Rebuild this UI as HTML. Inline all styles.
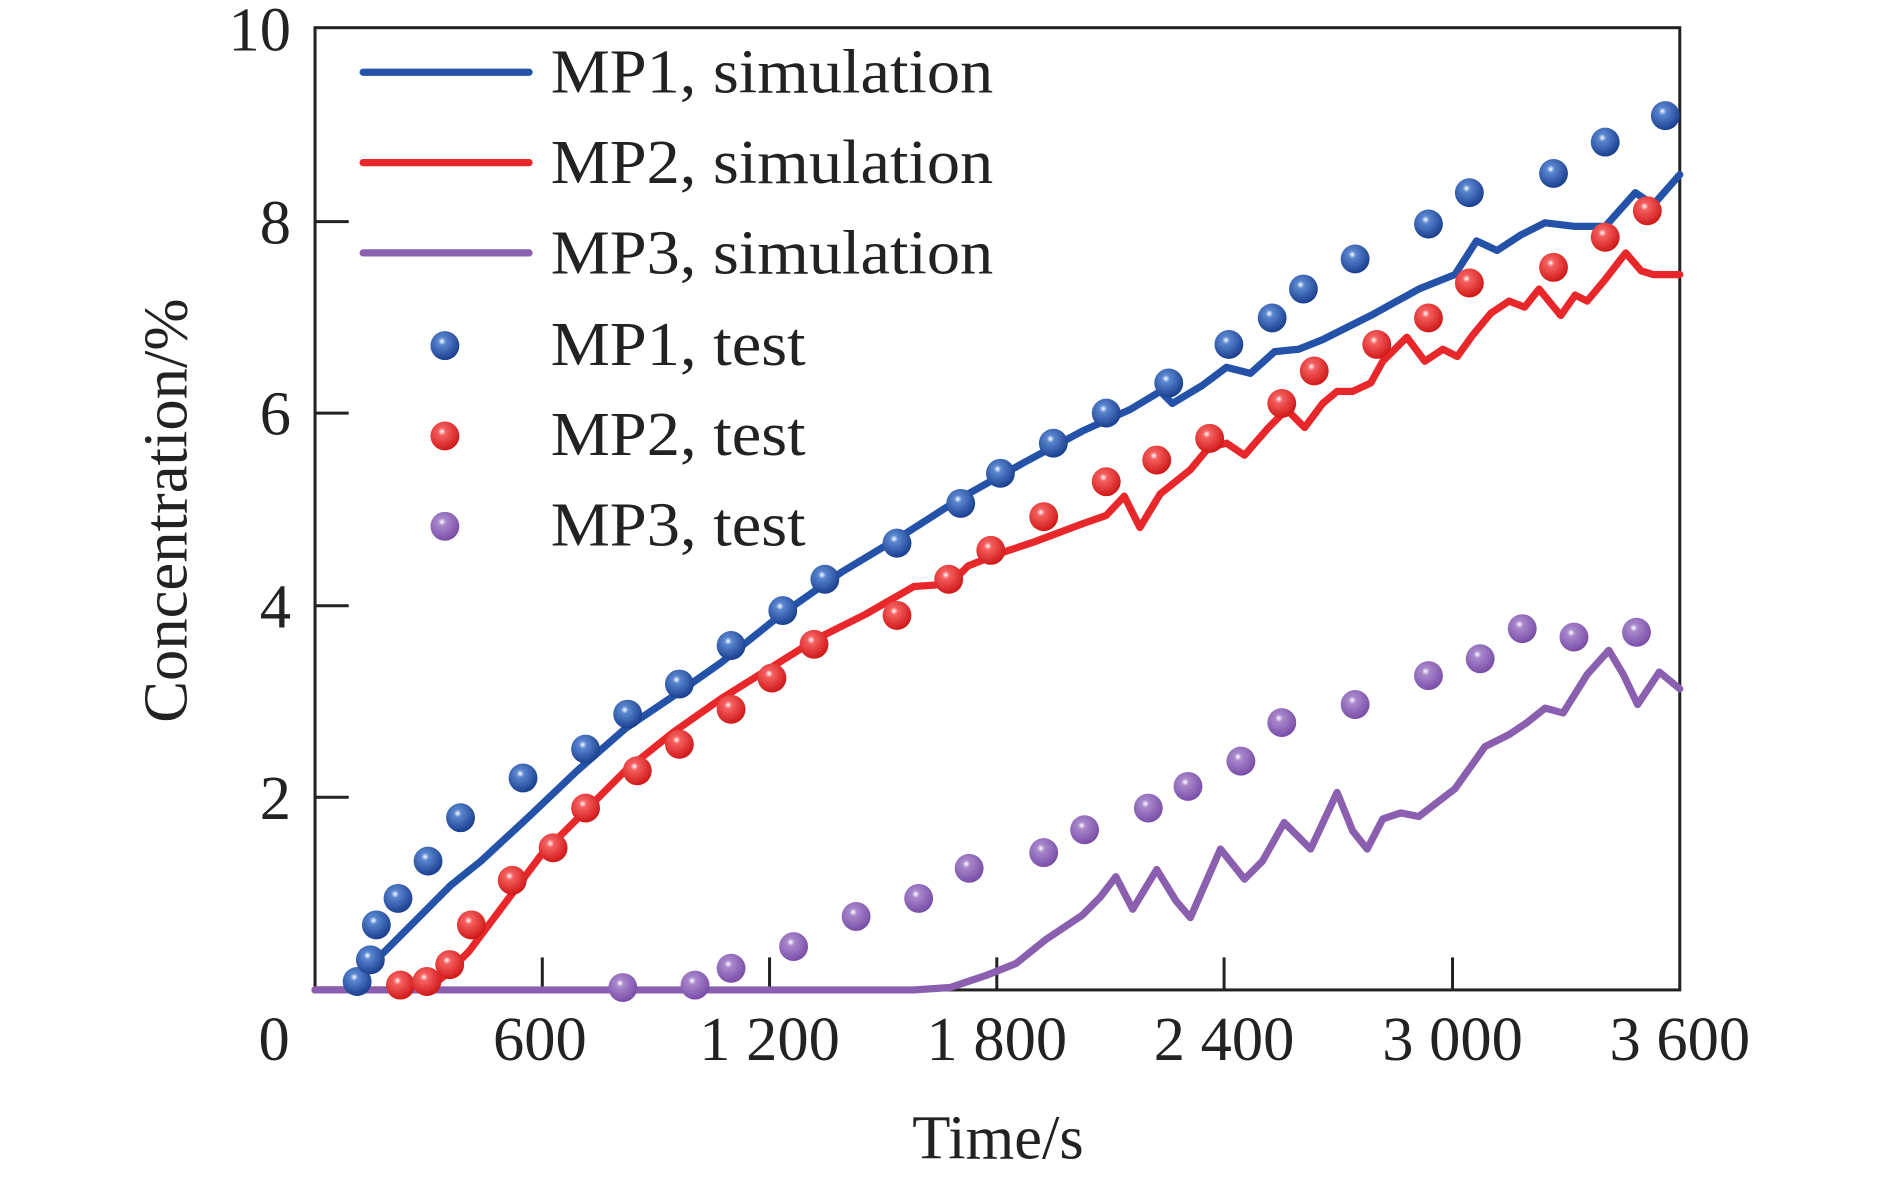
<!DOCTYPE html>
<html><head><style>html,body{margin:0;padding:0;background:#fff}svg{display:block}</style></head>
<body>
<svg width="1889" height="1179" viewBox="0 0 1571 979" preserveAspectRatio="none" xmlns="http://www.w3.org/2000/svg" font-family="Liberation Serif, serif">
<defs>
<radialGradient id="gb" cx="0.4" cy="0.35" r="0.65"><stop offset="0" stop-color="#fff"/><stop offset="0.2" stop-color="#5a86d0"/><stop offset="1" stop-color="#1a3f8f"/></radialGradient>
<radialGradient id="gr" cx="0.4" cy="0.35" r="0.65"><stop offset="0" stop-color="#fff"/><stop offset="0.2" stop-color="#f56060"/><stop offset="1" stop-color="#d01818"/></radialGradient>
<radialGradient id="gp" cx="0.4" cy="0.35" r="0.65"><stop offset="0" stop-color="#fff"/><stop offset="0.2" stop-color="#a888cc"/><stop offset="1" stop-color="#7a4ea8"/></radialGradient>
</defs>
<rect x="262" y="23" width="1135" height="799" fill="none" stroke="#222" stroke-width="2.5"/>
<g stroke="#222" stroke-width="2.5">
<line x1="451" y1="822" x2="451" y2="795"/><line x1="640" y1="822" x2="640" y2="795"/><line x1="829" y1="822" x2="829" y2="795"/><line x1="1018" y1="822" x2="1018" y2="795"/><line x1="1208" y1="822" x2="1208" y2="795"/>
<line x1="262" y1="662" x2="290" y2="662"/><line x1="262" y1="503" x2="290" y2="503"/><line x1="262" y1="343" x2="290" y2="343"/><line x1="262" y1="184" x2="290" y2="184"/>
</g>
<g font-size="52" fill="#222" text-anchor="end">
<text x="242" y="42">10</text><text x="242" y="202">8</text><text x="242" y="361">6</text><text x="242" y="521">4</text><text x="242" y="680">2</text>
</g>
<g font-size="52" fill="#222" text-anchor="middle">
<text x="228" y="880" >0</text><text x="449" y="880">600</text><text x="640" y="880">1 200</text><text x="829" y="880">1 800</text><text x="1018" y="880">2 400</text><text x="1208" y="880">3 000</text><text x="1397" y="880">3 600</text>
<text x="830" y="962">Time/s</text>
<text transform="translate(155,424) rotate(-90)">Concentration/%</text>
</g>
<g fill="none" stroke-width="6" stroke-linejoin="round" stroke-linecap="round">
<polyline stroke="#2352a8" points="262,822 290,822 300,808 320,790 345,765 375,735 400,715 440,678 480,640 520,605 560,578 600,550 650,510 700,475 750,445 800,413 850,385 900,358 940,340 965,325 975,335 1000,320 1020,305 1040,310 1060,292 1080,290 1100,282 1140,262 1180,240 1210,228 1228,200 1245,208 1265,195 1285,185 1310,188 1335,188 1360,160 1375,170 1397,145"/>
<polyline stroke="#e8272a" points="262,822 355,822 370,810 390,790 420,750 450,710 480,680 520,640 560,608 600,580 640,555 680,530 720,510 760,487 790,485 805,470 830,460 860,450 900,435 920,428 935,412 948,438 965,410 990,390 1005,372 1020,368 1035,378 1055,355 1070,340 1085,355 1100,335 1112,325 1125,325 1140,318 1150,300 1170,280 1185,300 1200,290 1212,296 1225,278 1240,260 1255,250 1268,255 1280,240 1298,262 1310,245 1320,250 1335,232 1352,210 1365,225 1375,228 1397,228"/>
<polyline stroke="#8b5fb0" points="262,822 760,822 790,820 820,810 845,800 870,780 900,760 915,745 928,728 942,755 962,722 978,748 990,762 1015,705 1035,730 1050,715 1068,683 1090,705 1112,658 1125,690 1137,705 1150,680 1165,675 1180,678 1210,655 1235,620 1255,610 1270,600 1285,588 1300,592 1320,560 1338,540 1350,560 1362,585 1380,558 1397,572"/>
<line x1="302" y1="60" x2="440" y2="60" stroke="#2352a8"/>
<line x1="302" y1="135" x2="440" y2="135" stroke="#e8272a"/>
<line x1="302" y1="210" x2="440" y2="210" stroke="#8b5fb0"/>
</g>
<g fill="url(#gb)">
<circle cx="297" cy="815" r="12"/><circle cx="308" cy="797" r="12"/><circle cx="313" cy="768" r="12"/><circle cx="331" cy="746" r="12"/><circle cx="356" cy="715" r="12"/><circle cx="383" cy="679" r="12"/><circle cx="435" cy="646" r="12"/><circle cx="487" cy="622" r="12"/><circle cx="522" cy="593" r="12"/><circle cx="565" cy="568" r="12"/><circle cx="608" cy="536" r="12"/><circle cx="651" cy="507" r="12"/><circle cx="686" cy="481" r="12"/><circle cx="746" cy="451" r="12"/><circle cx="799" cy="418" r="12"/><circle cx="832" cy="393" r="12"/><circle cx="876" cy="368" r="12"/><circle cx="920" cy="343" r="12"/><circle cx="972" cy="318" r="12"/><circle cx="1022" cy="286" r="12"/><circle cx="1058" cy="264" r="12"/><circle cx="1084" cy="240" r="12"/><circle cx="1127" cy="215" r="12"/><circle cx="1188" cy="186" r="12"/><circle cx="1222" cy="160" r="12"/><circle cx="1292" cy="144" r="12"/><circle cx="1335" cy="118" r="12"/><circle cx="1385" cy="96" r="12"/><circle cx="370" cy="287" r="12"/>
</g>
<g fill="url(#gr)">
<circle cx="333" cy="818" r="12"/><circle cx="355" cy="815" r="12"/><circle cx="374" cy="801" r="12"/><circle cx="392" cy="768" r="12"/><circle cx="426" cy="731" r="12"/><circle cx="460" cy="704" r="12"/><circle cx="487" cy="671" r="12"/><circle cx="530" cy="640" r="12"/><circle cx="565" cy="618" r="12"/><circle cx="608" cy="589" r="12"/><circle cx="642" cy="563" r="12"/><circle cx="677" cy="535" r="12"/><circle cx="746" cy="511" r="12"/><circle cx="789" cy="481" r="12"/><circle cx="824" cy="457" r="12"/><circle cx="868" cy="429" r="12"/><circle cx="920" cy="400" r="12"/><circle cx="962" cy="382" r="12"/><circle cx="1006" cy="364" r="12"/><circle cx="1066" cy="335" r="12"/><circle cx="1093" cy="308" r="12"/><circle cx="1145" cy="286" r="12"/><circle cx="1188" cy="264" r="12"/><circle cx="1222" cy="235" r="12"/><circle cx="1292" cy="222" r="12"/><circle cx="1335" cy="197" r="12"/><circle cx="1370" cy="175" r="12"/><circle cx="370" cy="362" r="12"/>
</g>
<g fill="url(#gp)">
<circle cx="518" cy="820" r="12"/><circle cx="578" cy="818" r="12"/><circle cx="608" cy="804" r="12"/><circle cx="660" cy="786" r="12"/><circle cx="712" cy="761" r="12"/><circle cx="764" cy="746" r="12"/><circle cx="806" cy="721" r="12"/><circle cx="868" cy="708" r="12"/><circle cx="902" cy="689" r="12"/><circle cx="955" cy="671" r="12"/><circle cx="988" cy="653" r="12"/><circle cx="1032" cy="632" r="12"/><circle cx="1066" cy="600" r="12"/><circle cx="1127" cy="585" r="12"/><circle cx="1188" cy="561" r="12"/><circle cx="1231" cy="547" r="12"/><circle cx="1266" cy="522" r="12"/><circle cx="1309" cy="529" r="12"/><circle cx="1361" cy="525" r="12"/><circle cx="370" cy="437" r="12"/>
</g>
<g font-size="52" fill="#222">
<text x="458" y="77" textLength="368" lengthAdjust="spacingAndGlyphs">MP1, simulation</text>
<text x="458" y="152" textLength="368" lengthAdjust="spacingAndGlyphs">MP2, simulation</text>
<text x="458" y="227" textLength="368" lengthAdjust="spacingAndGlyphs">MP3, simulation</text>
<text x="458" y="303" textLength="212" lengthAdjust="spacingAndGlyphs">MP1, test</text>
<text x="458" y="378" textLength="212" lengthAdjust="spacingAndGlyphs">MP2, test</text>
<text x="458" y="453" textLength="212" lengthAdjust="spacingAndGlyphs">MP3, test</text>
</g>
</svg>
</body></html>
